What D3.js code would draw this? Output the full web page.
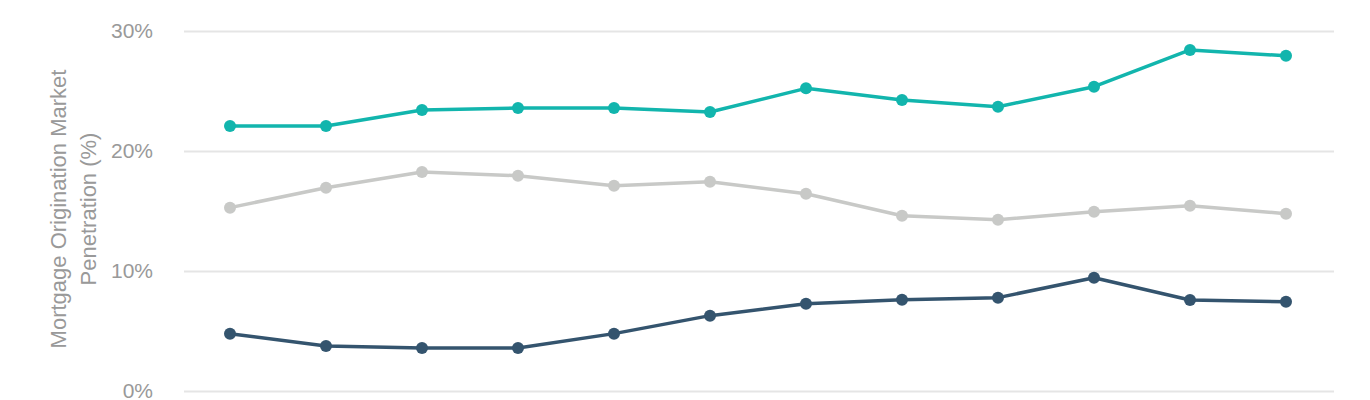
<!DOCTYPE html>
<html>
<head>
<meta charset="utf-8">
<script src="https://cdn.jsdelivr.net/npm/d3@7"></script>
<style>
  html, body { margin: 0; padding: 0; background: #fff; }
  svg { display: block; font-family: "Liberation Sans", Arial, sans-serif; }
</style>
</head>
<body>
<svg id="chart" width="1370" height="400"></svg>
<script>
const categories = ["P1","P2","P3","P4","P5","P6","P7","P8","P9","P10","P11","P12"];
const seriesTeal = [22.08, 22.08, 23.42, 23.58, 23.58, 23.25, 25.22, 24.25, 23.69, 25.36, 28.42, 27.94];
const seriesGray = [15.28, 16.94, 18.25, 17.94, 17.11, 17.44, 16.44, 14.61, 14.28, 14.94, 15.44, 14.78];
const seriesDark = [4.78, 3.75, 3.58, 3.58, 4.78, 6.28, 7.28, 7.61, 7.78, 9.44, 7.58, 7.44];
const yTicks = [0, 10, 20, 30];
const yTitle = ["Mortgage Origination Market", "Penetration (%)"];

const series = [
  { name: "gray", values: seriesGray, color: "#c8c9c7" },
  { name: "dark", values: seriesDark, color: "#34546e" },
  { name: "teal", values: seriesTeal, color: "#12b5ad" }
];

const svg = d3.select("#chart");
const gridLeft = 184, gridRight = 1334;

const x = d3.scalePoint().domain(categories).range([230, 1286]);
const y = d3.scaleLinear().domain([0, 30]).range([391, 31]);

const yAxis = d3.axisLeft(y)
  .tickValues(yTicks)
  .tickFormat(d => d + "%")
  .tickSize(-(gridRight - gridLeft))
  .tickPadding(31);

const gAxis = svg.append("g")
  .attr("transform", `translate(${gridLeft},0)`)
  .call(yAxis);
gAxis.select(".domain").remove();
gAxis.selectAll(".tick line").attr("stroke", "#e5e5e5").attr("stroke-width", 2);
gAxis.selectAll(".tick text")
  .attr("fill", "#999999")
  .attr("font-size", 21)
  .attr("font-family", "'Liberation Sans', Arial, sans-serif");

const title = svg.append("text")
  .attr("transform", `translate(58, 209) rotate(-90)`)
  .attr("text-anchor", "middle")
  .attr("fill", "#999999")
  .attr("font-size", 22);
yTitle.forEach((t, i) => {
  title.append("tspan")
    .attr("x", 0)
    .attr("dy", i === 0 ? "0.35em" : 30)
    .text(t);
});

const line = d3.line()
  .x((d, i) => x(categories[i]))
  .y(d => y(d));

series.forEach(s => {
  svg.append("path")
    .datum(s.values)
    .attr("fill", "none")
    .attr("stroke", s.color)
    .attr("stroke-width", 3.5)
    .attr("stroke-linejoin", "round")
    .attr("d", line);
  svg.append("g")
    .selectAll("circle")
    .data(s.values)
    .join("circle")
    .attr("cx", (d, i) => x(categories[i]))
    .attr("cy", d => y(d))
    .attr("r", 6)
    .attr("fill", s.color);
});
</script>
</body>
</html>
